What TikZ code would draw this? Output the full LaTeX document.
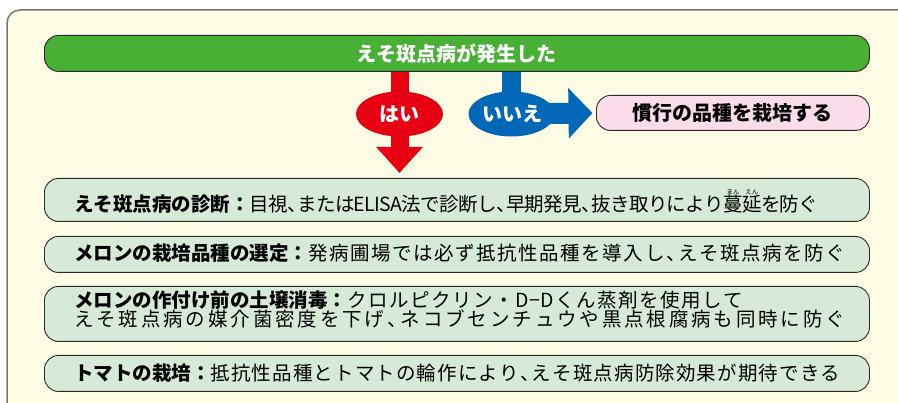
\documentclass[tikz,border=0pt]{standalone}
\usepackage{fontspec}
\setmainfont{Noto Sans CJK JP}
\usetikzlibrary{shapes.geometric,arrows.meta}
\definecolor{panelbg}{HTML}{FFFCE5}
\definecolor{panelborder}{HTML}{77776A}
\definecolor{barGreen}{HTML}{48B035}
\definecolor{redA}{HTML}{E60012}
\definecolor{blueA}{HTML}{0068B6}
\definecolor{pinkA}{HTML}{FADCEA}
\definecolor{boxGreen}{HTML}{D6EAD7}
\definecolor{borderDark}{HTML}{2B2B2B}
% spread characters evenly over a given width
\def\jsploop#1{\ifx\relax#1\else\jspone{#1}\expandafter\jsploop\fi}
\def\jspone#1{#1\hskip 0pt plus 1fil minus 1fil\relax}
\newcommand\jspread[2]{\hbox to #1{\jsploop#2\relax\unskip}}
\newlength\jbw
\newcommand\jline[3]{%
  \settowidth\jbw{\bfseries #2}%
  \hbox{\bfseries #2}\jspread{\dimexpr#1-\jbw\relax}{#3}}
\newcommand\jrb[2]{\hbox{\rlap{\hbox to 1em{\hss\raisebox{16.5pt}{\fontsize{6.5}{7}\selectfont #2}\hss}}#1}}
\newcommand\jhc{\hbox to 0.55em{、\hss}}
\tikzset{
  jbox/.style={draw=borderDark, line width=0.9pt, fill=boxGreen, rounded corners=14pt,
    anchor=north west, minimum width=825pt, inner sep=0pt},
  jtxt/.style={anchor=west, inner sep=0pt, font=\fontsize{19.5}{22}\selectfont},
  btxt/.style={inner sep=0pt, font=\fontsize{20}{22}\selectfont\bfseries},
  blob/.style={ellipse, inner sep=0pt, minimum width=87pt, minimum height=45pt, text=white}
}
\begin{document}
\begin{tikzpicture}[x=1pt,y=-1pt]
\useasboundingbox (0,0) rectangle (898,403);
\clip (0,0) rectangle (898,403);
% panel
\draw[panelborder, line width=1.5pt, fill=panelbg, rounded corners=13pt] (7,10) rectangle (930,430);
% top bar
\node[draw=borderDark, line width=0.9pt, fill=barGreen, rounded corners=14pt, anchor=north west,
  minimum width=825pt, minimum height=36pt, inner sep=0pt] (bar) at (44,35) {};
\node[btxt, text=white] (bartxt) at (bar.center) {えそ斑点病が発生した};
% pink box
\node[draw=borderDark, line width=0.9pt, fill=pinkA, rounded corners=14pt, anchor=north west,
  minimum width=273pt, minimum height=35pt, inner sep=0pt] (pink) at (596,95) {};
\node[btxt] (pinktxt) at (pink.center) {慣行の品種を栽培する};
% result boxes
\node[jbox, minimum height=43pt] (b1) at (44,178) {};
\node[jbox, minimum height=36pt] (b2) at (44,236) {};
\node[jbox, minimum height=55pt] (b3) at (44,286) {};
\node[jbox, minimum height=36pt] (b4) at (44,355) {};
% red arrow
\coordinate (hc) at (399.5,114);
\draw[redA, line width=18pt, -{Triangle[width=45pt,length=26pt]}, shorten >=5pt]
  (hc |- bar.south) -- (hc |- b1.north);
\node[blob, fill=redA] (hai) at (hc) {};
\node[btxt, text=white] (haitxt) at (hai.center) {はい};
% blue arrow
\coordinate (ic) at (511.5,114);
\draw[blueA, line width=19pt] (ic |- bar.south) -- (ic);
\draw[blueA, line width=21pt, -{Triangle[width=49pt,length=24pt]}, shorten >=3.5pt]
  (ic) -- (pink.west);
\node[blob, fill=blueA, minimum width=86pt] (iie) at (ic) {};
\node[btxt, text=white] (iietxt) at ([xshift=1pt]iie.center) {いいえ};
% texts
\node[jtxt] (t1) at (74,201.5) {\jline{744pt}{えそ斑点病の診断：}{目視{\jhc}またはELISA法で診断し{\jhc}早期発見{\jhc}抜き取りにより{\jrb{蔓}{まん}}{\jrb{延}{えん}}を防ぐ}};
\node[jtxt] (t2) at (74,253) {\jline{771pt}{メロンの栽培品種の選定：}{発病圃場では必ず抵抗性品種を導入し{\jhc}えそ斑点病を防ぐ}};
\node[jtxt] (t3a) at (74,300.5) {\jline{669pt}{メロンの作付け前の土壌消毒：}{クロルピクリン・{D−D}くん蒸剤を使用して}};
\node[jtxt] (t3b) at (74,318.5) {\jspread{771pt}{えそ斑点病の媒介菌密度を下げ{\jhc}ネコブセンチュウや黒点根腐病も同時に防ぐ}};
\node[jtxt] (t4) at (74,373.5) {\jline{766pt}{トマトの栽培：}{抵抗性品種とトマトの輪作により{\jhc}えそ斑点病防除効果が期待できる}};
\end{tikzpicture}
\end{document}
